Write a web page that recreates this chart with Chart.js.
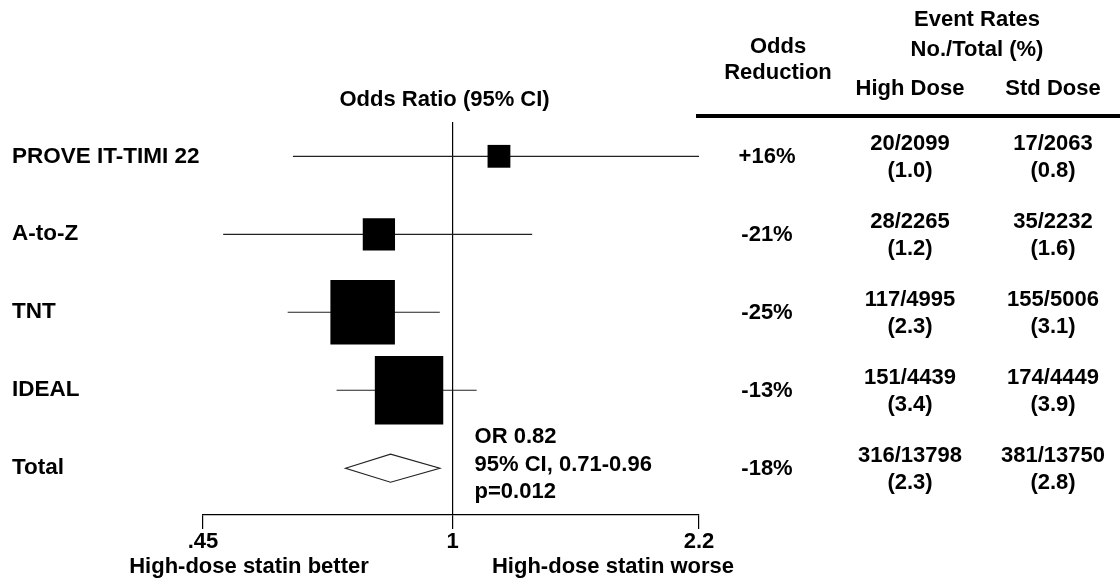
<!DOCTYPE html>
<html>
<head>
<meta charset="utf-8">
<script src="https://cdn.jsdelivr.net/npm/chart.js@4.4.0/dist/chart.umd.min.js"></script>
<style>
  html, body { margin: 0; padding: 0; background: #fff; }
  #wrap { width: 1120px; height: 585px; }
</style>
</head>
<body>
<div id="wrap"><canvas id="forest" width="1120" height="585"></canvas></div>
<script>
"use strict";

// rows, top to bottom (last row = pooled result)
const studies = ['PROVE IT-TIMI 22', 'A-to-Z', 'TNT', 'IDEAL', 'Total'];
const oddsRatio = [1.16, 0.79, 0.75, 0.87, 0.82];
const ciLow = [0.60, 0.48, 0.59, 0.69, 0.71];
const ciHigh = [2.2, 1.29, 0.96, 1.08, 0.96];
const weight = [5, 10, 40, 45]; // study weight in %, sets the box size

const oddsReduction = ['+16%', '-21%', '-25%', '-13%', '-18%'];
const highDose = ['20/2099', '28/2265', '117/4995', '151/4439', '316/13798'];
const highDosePct = ['(1.0)', '(1.2)', '(2.3)', '(3.4)', '(2.3)'];
const stdDose = ['17/2063', '35/2232', '155/5006', '174/4449', '381/13750'];
const stdDosePct = ['(0.8)', '(1.6)', '(3.1)', '(3.9)', '(2.8)'];

const xTicks = [0.45, 1, 2.2];
const xTickLabels = ['.45', '1', '2.2'];

const pooledText = ['OR 0.82', '95% CI, 0.71-0.96', 'p=0.012'];

const FONT = "'Liberation Sans', Arial, Helvetica, sans-serif";
const INK = '#000';
Chart.defaults.font.family = FONT;
Chart.defaults.color = INK;

function txt(ctx, s, x, y, size, align) {
  ctx.font = 'bold ' + size + 'px ' + FONT;
  ctx.textAlign = align || 'center';
  ctx.textBaseline = 'middle';
  ctx.fillText(s, x, y);
}

const forestPlugin = {
  id: 'forest',
  beforeDatasetsDraw(chart) {
    const { ctx, scales: { x, y } } = chart;
    ctx.save();
    ctx.strokeStyle = '#222';
    ctx.lineWidth = 1.2;
    const last = studies.length - 1;
    // confidence intervals
    for (let i = 0; i < last; i++) {
      const py = y.getPixelForValue(i);
      ctx.beginPath();
      ctx.moveTo(x.getPixelForValue(ciLow[i]), py);
      ctx.lineTo(x.getPixelForValue(ciHigh[i]), py);
      ctx.stroke();
    }
    // pooled diamond
    const py = y.getPixelForValue(last);
    const h = 14;
    ctx.beginPath();
    ctx.moveTo(x.getPixelForValue(ciLow[last]), py);
    ctx.lineTo(x.getPixelForValue(oddsRatio[last]), py - h);
    ctx.lineTo(x.getPixelForValue(ciHigh[last]), py);
    ctx.lineTo(x.getPixelForValue(oddsRatio[last]), py + h);
    ctx.closePath();
    ctx.fillStyle = '#fff';
    ctx.fill();
    ctx.stroke();
    ctx.restore();
  },
  afterDraw(chart) {
    const { ctx, scales: { x, y } } = chart;
    ctx.save();
    ctx.fillStyle = INK;
    const x1 = x.getPixelForValue(1);

    txt(ctx, 'Odds Ratio (95% CI)', x1 - 8, 100, 22);

    // table header
    txt(ctx, 'Event Rates', 977, 20, 22);
    txt(ctx, 'No./Total (%)', 977, 50, 22);
    txt(ctx, 'Odds', 778, 47, 22);
    txt(ctx, 'Reduction', 778, 73, 22);
    txt(ctx, 'High Dose', 910, 89, 22);
    txt(ctx, 'Std Dose', 1053, 89, 22);

    ctx.strokeStyle = INK;
    ctx.lineWidth = 4;
    ctx.beginPath();
    ctx.moveTo(696, 116);
    ctx.lineTo(1120, 116);
    ctx.stroke();

    // table rows
    studies.forEach((s, i) => {
      const py = y.getPixelForValue(i) + 1;
      txt(ctx, oddsReduction[i], 767, py, 22);
      txt(ctx, highDose[i], 910, py - 13, 22);
      txt(ctx, highDosePct[i], 910, py + 14, 22);
      txt(ctx, stdDose[i], 1053, py - 13, 22);
      txt(ctx, stdDosePct[i], 1053, py + 14, 22);
    });

    // pooled estimate note
    const pt = y.getPixelForValue(studies.length - 1);
    pooledText.forEach((s, k) => {
      txt(ctx, s, x1 + 22, pt - 31 + k * 27.5, 22, 'left');
    });

    // direction labels
    txt(ctx, 'High-dose statin better', 249, 567, 22);
    txt(ctx, 'High-dose statin worse', 613, 567, 22);
    ctx.restore();
  }
};

const ctx = document.getElementById('forest').getContext('2d');
new Chart(ctx, {
  type: 'scatter',
  data: {
    datasets: [{
      data: weight.map((w, i) => ({ x: oddsRatio[i], y: i })),
      pointStyle: 'rect',
      pointRadius: c => Math.sqrt(weight[c.dataIndex]) * 10.2 / Math.SQRT2,
      backgroundColor: '#000',
      borderWidth: 0,
      clip: false
    }]
  },
  options: {
    responsive: false,
    animation: false,
    events: [],
    layout: { padding: { left: 12, top: 122, right: 421, bottom: 0 } },
    plugins: {
      legend: { display: false },
      tooltip: { enabled: false }
    },
    scales: {
      x: {
        type: 'logarithmic',
        min: 0.45,
        max: 2.2,
        afterBuildTicks: s => { s.ticks = xTicks.map(v => ({ value: v })); },
        afterFit: s => { s.height = 70; },
        ticks: {
          callback: v => xTickLabels[xTicks.indexOf(v)],
          font: { size: 22, weight: 'bold' },
          color: INK,
          padding: 0,
          maxRotation: 0,
          autoSkip: false
        },
        grid: {
          color: c => (c.tick && c.tick.value === 1 ? INK : 'rgba(0,0,0,0)'),
          tickColor: INK,
          tickLength: 14,
          lineWidth: 1.2
        },
        border: { display: true, color: INK, width: 1.2 }
      },
      y: {
        type: 'linear',
        reverse: true,
        min: -0.44,
        max: 4.6,
        afterBuildTicks: s => { s.ticks = studies.map((n, i) => ({ value: i })); },
        afterFit: s => { s.width = 191; },
        ticks: {
          callback: v => studies[v],
          crossAlign: 'far',
          font: { size: 22.5, weight: 'bold' },
          color: INK
        },
        grid: { display: false },
        border: { display: false }
      }
    }
  },
  plugins: [forestPlugin]
});
</script>
</body>
</html>
